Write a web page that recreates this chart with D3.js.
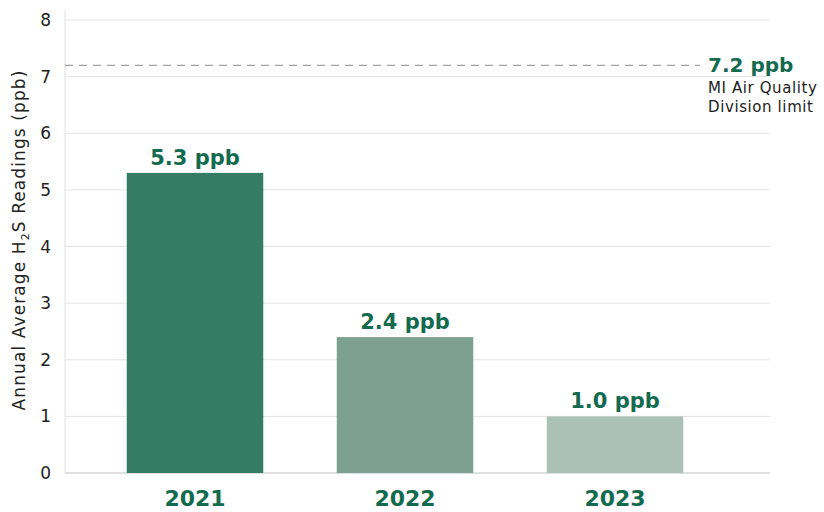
<!DOCTYPE html>
<html>
<head>
<meta charset="utf-8">
<script src="https://cdn.jsdelivr.net/npm/d3@7"></script>
<style>
  body { margin: 0; background: #fff; }
  text { font-family: "DejaVu Sans", "Open Sans", sans-serif; }
</style>
</head>
<body>
<div id="chart"></div>
<script>
const years = ["2021", "2022", "2023"];
const readings = [5.3, 2.4, 1.0];
const barColors = ["#357c64", "#7da091", "#abc1b6"];
const yTicks = [0, 1, 2, 3, 4, 5, 6, 7, 8];
const limitValue = 7.2;
const limitLines = ["MI Air Quality", "Division limit"];

const width = 824, height = 512;
const green = "#136b4f";

const svg = d3.select("#chart")
    .append("svg")
    .attr("width", width)
    .attr("height", height);

const x = d3.scaleBand()
    .domain(years)
    .range([90, 720])
    .paddingInner(0.35)
    .paddingOuter(0.175);

const y = d3.scaleLinear()
    .domain([0, 8])
    .range([473, 20]);

// grid
svg.append("g")
    .selectAll("line")
    .data(yTicks)
    .join("line")
    .attr("x1", 65)
    .attr("x2", 770)
    .attr("y1", d => y(d))
    .attr("y2", d => y(d))
    .attr("stroke", d => d === 0 ? "#d6d6d6" : "#e4e4e4")
    .attr("stroke-width", d => d === 0 ? 1.5 : 1);

svg.append("line")
    .attr("x1", 65).attr("x2", 65)
    .attr("y1", 10).attr("y2", y(0))
    .attr("stroke", "#e0e0e0");

// tick labels
svg.append("g")
    .selectAll("text")
    .data(yTicks)
    .join("text")
    .attr("x", 51)
    .attr("y", d => y(d) + 6)
    .attr("text-anchor", "end")
    .attr("font-size", 17)
    .attr("fill", "#222")
    .text(d => d);

// axis title
const title = svg.append("text")
    .attr("transform", "translate(25,240) rotate(-90)")
    .attr("text-anchor", "middle")
    .attr("font-size", 17)
    .attr("letter-spacing", 1.1)
    .attr("fill", "#222");
title.append("tspan").text("Annual Average H");
title.append("tspan").attr("font-size", 11).attr("dy", 4).text("2");
title.append("tspan").attr("dy", -4).text("S Readings (ppb)");

// bars
svg.append("g")
    .selectAll("rect")
    .data(years)
    .join("rect")
    .attr("x", d => x(d))
    .attr("y", (d, i) => y(readings[i]))
    .attr("width", x.bandwidth())
    .attr("height", (d, i) => y(0) - y(readings[i]))
    .attr("fill", (d, i) => barColors[i]);

// value labels
svg.append("g")
    .selectAll("text")
    .data(years)
    .join("text")
    .attr("x", d => x(d) + x.bandwidth() / 2)
    .attr("y", (d, i) => y(readings[i]) - 8)
    .attr("text-anchor", "middle")
    .attr("font-size", 21)
    .attr("font-weight", "bold")
    .attr("fill", green)
    .text((d, i) => readings[i].toFixed(1) + " ppb");

// year labels
svg.append("g")
    .selectAll("text")
    .data(years)
    .join("text")
    .attr("x", d => x(d) + x.bandwidth() / 2)
    .attr("y", 506)
    .attr("text-anchor", "middle")
    .attr("font-size", 22)
    .attr("font-weight", "bold")
    .attr("fill", green)
    .text(d => d);

// limit line
svg.append("line")
    .attr("x1", 65)
    .attr("x2", 700)
    .attr("y1", y(limitValue))
    .attr("y2", y(limitValue))
    .attr("stroke", "#8a8a8a")
    .attr("stroke-dasharray", "8,6");

svg.append("text")
    .attr("x", 708)
    .attr("y", y(limitValue) + 7)
    .attr("font-size", 20)
    .attr("font-weight", "bold")
    .attr("fill", green)
    .text(limitValue.toFixed(1) + " ppb");

svg.append("g")
    .selectAll("text")
    .data(limitLines)
    .join("text")
    .attr("x", 708)
    .attr("y", (d, i) => y(limitValue) + 28 + i * 19)
    .attr("font-size", 15)
    .attr("letter-spacing", 0.6)
    .attr("fill", "#222")
    .text(d => d);
</script>
</body>
</html>
